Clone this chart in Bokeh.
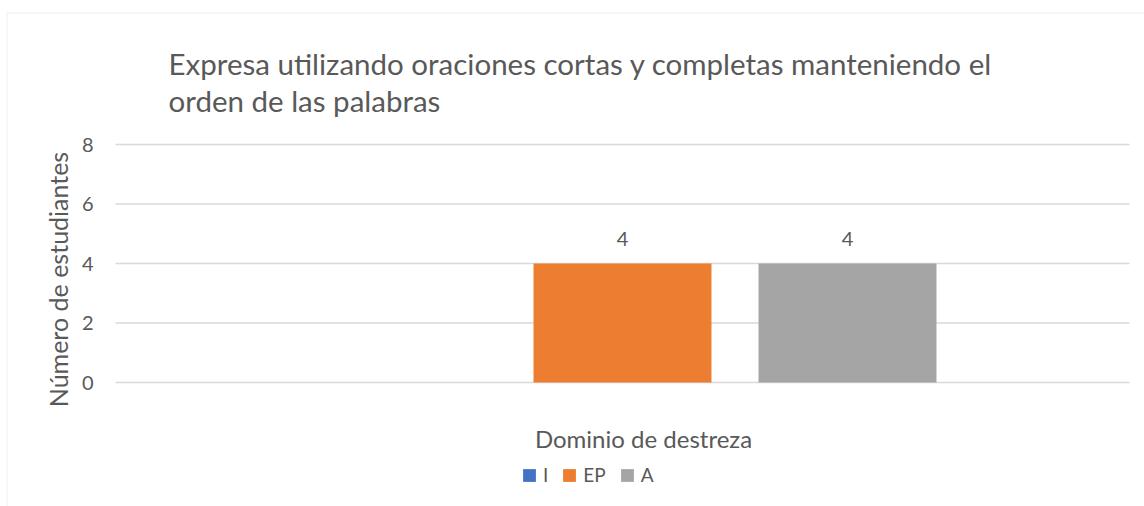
import math
from bokeh.plotting import figure
from bokeh.models import (ColumnDataSource, Range1d, Label, LabelSet, Legend,
                          LegendItem, BoxAnnotation)
from bokeh.core.properties import value
from bokeh.embed import file_html
from bokeh.resources import INLINE

# ---- data ----
categories = ["I", "EP", "A"]
counts = [0, 4, 4]
colors = ["#4472C4", "#ED7D31", "#A5A5A5"]
y_ticks = [0, 2, 4, 6, 8]
title_lines = ["Expresa utilizando oraciones cortas y completas manteniendo el",
               "orden de las palabras"]
x_title = "Dominio de destreza"
y_title = "Número de estudiantes"

# ---- layout (pixels) ----
W, H = 1144, 506
PLOT_L, PLOT_R = 115, 1129        # plot area x extent
PLOT_T, PLOT_B = 144, 382         # plot area y extent (value 8 .. 0)
Y_MAX = 8
FIRST_CENTER = 397                # pixel centre of first category
STEP = 225                        # pixels between category centres
BAR_W = 0.791

FONT = "Lato"
TXT = "#595959"

px_y = (PLOT_B - PLOT_T) / Y_MAX
y0 = -(H - PLOT_B) / px_y
y1 = Y_MAX + PLOT_T / px_y
x0 = -FIRST_CENTER / STEP
x1 = x0 + W / STEP
gl_x0 = x0 + PLOT_L / STEP
gl_x1 = x0 + PLOT_R / STEP

xs = list(range(len(categories)))
src = ColumnDataSource(dict(x=xs, cat=categories, n=counts, color=colors))
lab_src = ColumnDataSource(dict(
    x=[x for x, v in zip(xs, counts) if v != 0],
    n=[v for v in counts if v != 0],
    t=[str(v) for v in counts if v != 0]))

p = figure(width=W, height=H, output_backend="svg", toolbar_location=None,
           x_range=Range1d(x0, x1), y_range=Range1d(y0, y1),
           min_border=0)
p.outline_line_color = None
p.background_fill_color = "white"
p.border_fill_color = "white"
p.xaxis.visible = False
p.yaxis.visible = False
p.grid.visible = False

# gridlines
p.segment(x0=[gl_x0] * len(y_ticks), x1=[gl_x1] * len(y_ticks), y0=y_ticks, y1=y_ticks,
          line_color="#d9d9d9", line_width=1.3)
# y tick labels
p.text(x=[gl_x0] * len(y_ticks), y=y_ticks, text=[str(t) for t in y_ticks],
       x_offset=-22, text_align="right", text_baseline="middle",
       text_font=value(FONT), text_font_size="20px", text_color=TXT)

bars = p.vbar(x="x", top="n", width=BAR_W, fill_color="color", line_color=None, source=src)

p.add_layout(LabelSet(x="x", y="n", text="t", source=lab_src, y_offset=18,
                      text_align="center", text_baseline="alphabetic",
                      text_font=value(FONT), text_font_size=value("20px"), text_color=TXT))

# titles
for line, yy in zip(title_lines, [63, 100]):
    p.add_layout(Label(x=168, y=H - yy, x_units="screen", y_units="screen", text=line,
                       text_font=FONT, text_font_size="29.5px", text_color=TXT,
                       text_baseline="alphabetic", text_align="left"))
p.add_layout(Label(x=57, y=H - 279, x_units="screen", y_units="screen", text=y_title,
                   angle=math.pi / 2, text_align="center", text_baseline="middle",
                   text_font=FONT, text_font_size="25px", text_color=TXT))
p.add_layout(Label(x=643, y=H - 438, x_units="screen", y_units="screen", text=x_title,
                   text_align="center", text_baseline="middle",
                   text_font=FONT, text_font_size="24px", text_color=TXT))

# legend
items = [LegendItem(label=c, renderers=[bars], index=i) for i, c in enumerate(categories)]
legend = Legend(items=items, orientation="horizontal", location=(521, 20),
                glyph_width=16, glyph_height=16, label_height=16, label_width=1,
                label_standoff=6, spacing=13, padding=0, margin=0,
                border_line_color=None, background_fill_alpha=0,
                label_text_font=FONT, label_text_font_size="19px", label_text_color=TXT)
p.add_layout(legend, "center")

# chart border
p.add_layout(BoxAnnotation(left=6.5, right=W + 50, top=H - 12.5, bottom=-50,
                           left_units="screen", right_units="screen",
                           top_units="screen", bottom_units="screen",
                           fill_alpha=0, line_color="#d9d9d9", line_width=1.5))

open("out.html", "w").write(file_html(p, INLINE))
